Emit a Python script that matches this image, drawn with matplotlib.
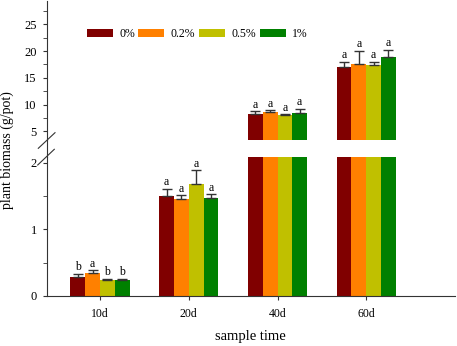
import matplotlib
matplotlib.use("Agg")
import matplotlib.pyplot as plt
import numpy as np
from matplotlib.lines import Line2D

plt.rcParams['font.family'] = ['Liberation Serif', 'DejaVu Serif']

categories = ['10d', '20d', '40d', '60d']
series = ['0%', '0.2%', '0.5%', '1%']
colors = ['#800000', '#FF8000', '#C0C000', '#008000']

values = {
    '0%':   [0.28, 1.50, 8.32, 16.95],
    '0.2%': [0.345, 1.45, 8.62, 17.55],
    '0.5%': [0.23, 1.69, 8.00, 17.45],
    '1%':   [0.23, 1.47, 8.50, 18.95],
}
errors = {
    '0%':   [0.045, 0.105, 0.43, 1.1],
    '0.2%': [0.035, 0.06, 0.30, 2.5],
    '0.5%': [0.025, 0.20, 0.19, 0.5],
    '1%':   [0.025, 0.055, 0.75, 1.25],
}
letters = {
    '0%':   ['b', 'a', 'a', 'a'],
    '0.2%': ['a', 'a', 'a', 'a'],
    '0.5%': ['b', 'a', 'a', 'a'],
    '1%':   ['b', 'a', 'a', 'a'],
}

W, H = 457, 346
fig = plt.figure(figsize=(W / 100, H / 100), dpi=100)

left = 46.5 / W
width = (455 - 46.5) / W
ax_lo = fig.add_axes([left, (H - 295.7) / H, width, (295.7 - 157) / H])
ax_hi = fig.add_axes([left, (H - 140) / H, width, (140 - 1) / H])

lo_lim = (0, 2.09)
hi_lim = (3.41, 29.35)

x = np.arange(len(categories))
bw = 0.167
offsets = (np.arange(len(series)) - 1.5) * bw
spine_c = '#333333'

for ax in (ax_lo, ax_hi):
    for i, s in enumerate(series):
        vals = np.array(values[s])
        errs = np.array(errors[s])
        xs = x + offsets[i]
        ax.bar(xs, vals, width=bw, color=colors[i], linewidth=0, label=s, zorder=2)
        ax.errorbar(xs, vals, yerr=[np.zeros_like(errs), errs], fmt='none',
                    ecolor=spine_c, elinewidth=1, capsize=3.6, capthick=1, zorder=3)
        lim = lo_lim if ax is ax_lo else hi_lim
        for xx, v, e, l in zip(xs, vals, errs, letters[s]):
            top = v + e
            if lim[0] < top < lim[1]:
                ax.annotate(l, (xx, top), xytext=(0, 0.5), textcoords='offset points',
                            ha='center', va='bottom', fontsize=8.5)
    ax.set_xlim(-0.603, 4.0)
    ax.spines['top'].set_visible(False)
    ax.spines['right'].set_visible(False)
    ax.spines['left'].set_color(spine_c)
    ax.spines['bottom'].set_color(spine_c)
    ax.tick_params(axis='y', which='both', direction='out', length=3, labelsize=9,
                   color=spine_c, pad=4)

ax_lo.set_ylim(*lo_lim)
ax_lo.set_yticks([0, 1, 2])
ax_lo.set_yticks([0.5, 1.5], minor=True)
ax_lo.set_yticklabels(['0', '1', '2'])
ax_lo.set_xticks(x)
ax_lo.set_xticklabels(categories)
ax_lo.tick_params(axis='x', direction='out', length=3, labelsize=8.5, color=spine_c, pad=6)
ax_lo.set_xlabel('sample time', fontsize=10.5, labelpad=7)

ax_hi.set_ylim(*hi_lim)
ax_hi.set_yticks([5, 10, 15, 20, 25])
ax_hi.set_yticks([7.5, 12.5, 17.5, 22.5, 27.5], minor=True)
ax_hi.set_yticklabels(['5', '10', '15', '20', '25'])
ax_hi.spines['bottom'].set_visible(False)
ax_hi.set_xticks([])

def fx(px):
    return px / W

def fy(py):
    return 1 - py / H

fig.add_artist(Line2D([fx(46.5), fx(46.5)], [fy(140), fy(157)], color=spine_c, lw=0.8))
fig.add_artist(Line2D([fx(38.3), fx(55)], [fy(148.3), fy(132.7)], color=spine_c, lw=0.8))
fig.add_artist(Line2D([fx(37.7), fx(54.3)], [fy(165), fy(149.3)], color=spine_c, lw=0.8))

fig.text(fx(7.5), fy(150), 'plant biomass (g/pot)', rotation=90, ha='center', va='center',
         fontsize=10)

handles, labels = ax_hi.get_legend_handles_labels()
fig.legend(handles, labels, loc='center left', bbox_to_anchor=(fx(86.7), fy(34)),
           ncol=4, frameon=False, fontsize=8.5, handlelength=2.2, handleheight=0.68,
           handletextpad=0.55, columnspacing=0.3, borderpad=0, borderaxespad=0)

fig.savefig('out.png', dpi=100)
